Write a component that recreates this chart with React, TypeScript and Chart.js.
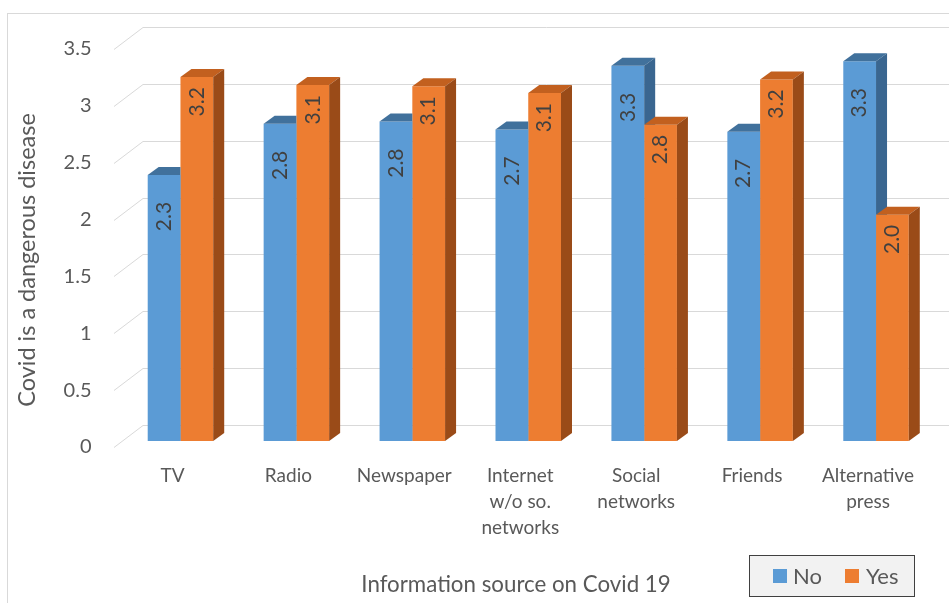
import React, { useEffect, useRef } from "react";
import { Chart, registerables } from "chart.js";

Chart.register(...registerables);

// ---- data ----
const CATEGORIES: (string | string[])[] = [
  "TV",
  "Radio",
  "Newspaper",
  ["Internet", "w/o so.", "networks"],
  ["Social", "networks"],
  "Friends",
  ["Alternative", "press"],
];
const NO_VALUES = [2.34, 2.79, 2.81, 2.74, 3.3, 2.72, 3.34];
const YES_VALUES = [3.2, 3.13, 3.12, 3.06, 2.78, 3.18, 1.99];
const SERIES_NAMES = ["No", "Yes"];
const Y_TITLE = "Covid is a dangerous disease";
const X_TITLE = "Information source on Covid 19";
const Y_MIN = 0;
const Y_MAX = 3.5;
const Y_STEP = 0.5;

// ---- style ----
const FONT = "Lato, 'Open Sans', sans-serif";
const FRONT = ["#5b9bd5", "#ed7d31"];
const TOP = ["#41719c", "#c2601f"];
const SIDE = ["#3a6690", "#9a4b18"];
const DX = 11;
const DY = -8;
const LABEL_GAP = [27, 10];

function faces(ctx: CanvasRenderingContext2D, p: any, idx: number) {
  const xl = p.x - p.width / 2;
  const xr = p.x + p.width / 2;
  const yt = Math.min(p.y, p.base);
  const yb = Math.max(p.y, p.base);
  ctx.fillStyle = TOP[idx];
  ctx.beginPath();
  ctx.moveTo(xl, yt);
  ctx.lineTo(xr, yt);
  ctx.lineTo(xr + DX, yt + DY);
  ctx.lineTo(xl + DX, yt + DY);
  ctx.closePath();
  ctx.fill();
  ctx.fillStyle = SIDE[idx];
  ctx.beginPath();
  ctx.moveTo(xr, yt);
  ctx.lineTo(xr + DX, yt + DY);
  ctx.lineTo(xr + DX, yb + DY);
  ctx.lineTo(xr, yb);
  ctx.closePath();
  ctx.fill();
}

const threeD = {
  id: "threeD",
  beforeDraw(chart: any) {
    const { ctx, width, height } = chart;
    ctx.save();
    ctx.fillStyle = "#ffffff";
    ctx.fillRect(0, 0, width, height);
    ctx.strokeStyle = "#d9d9d9";
    ctx.lineWidth = 1;
    ctx.strokeRect(7.5, 13.5, width + 20, height + 20);
    const ys = chart.scales.y;
    const area = chart.chartArea;
    const xf = area.left - 8.5;
    const xb = area.left + 20.5;
    ys.ticks.forEach((t: any) => {
      const py = Math.round(ys.getPixelForValue(t.value)) + 0.5;
      ctx.beginPath();
      ctx.moveTo(xf, py + 6);
      ctx.lineTo(xb, py - 16);
      ctx.lineTo(width + 5, py - 16);
      ctx.stroke();
    });
    ctx.restore();
  },
  afterDatasetsDraw(chart: any) {
    const ctx = chart.ctx as CanvasRenderingContext2D;
    const m0 = chart.getDatasetMeta(0);
    const m1 = chart.getDatasetMeta(1);
    const n = chart.data.labels.length;
    for (let i = 0; i < n; i++) {
      const bp = m0.data[i].getProps(["x", "y", "base", "width"], true);
      const op = m1.data[i].getProps(["x", "y", "base", "width"], true);
      ctx.save();
      ctx.beginPath();
      ctx.rect(0, 0, chart.width, chart.height);
      ctx.rect(op.x - op.width / 2, Math.min(op.y, op.base), op.width, Math.abs(op.base - op.y));
      ctx.clip("evenodd");
      faces(ctx, bp, 0);
      ctx.restore();
      ctx.save();
      faces(ctx, op, 1);
      ctx.restore();
    }
    // data labels
    ctx.save();
    ctx.fillStyle = "#404040";
    ctx.font = `21px ${FONT}`;
    ctx.textAlign = "right";
    ctx.textBaseline = "middle";
    [m0, m1].forEach((meta: any, d: number) => {
      meta.data.forEach((el: any, i: number) => {
        const v = chart.data.datasets[d].data[i] as number;
        ctx.save();
        ctx.translate(el.x, el.y + LABEL_GAP[d]);
        ctx.rotate(-Math.PI / 2);
        ctx.fillText(v.toFixed(1), 0, 0);
        ctx.restore();
      });
    });
    ctx.restore();
  },
  afterDraw(chart: any) {
    const ctx = chart.ctx as CanvasRenderingContext2D;
    ctx.save();
    ctx.fillStyle = "#595959";
    ctx.font = `22.3px ${FONT}`;
    ctx.textAlign = "center";
    ctx.textBaseline = "middle";
    ctx.fillText(X_TITLE, 516, 585);
    ctx.save();
    ctx.font = `23.5px ${FONT}`;
    ctx.translate(27, 260);
    ctx.rotate(-Math.PI / 2);
    ctx.fillText(Y_TITLE, 0, 0);
    ctx.restore();
    // legend
    ctx.fillStyle = "#f2f2f2";
    ctx.fillRect(749.5, 555.5, 165, 41);
    ctx.strokeStyle = "#404040";
    ctx.lineWidth = 1;
    ctx.strokeRect(749.5, 555.5, 165, 41);
    const sq = [773, 845];
    const tx = [793, 866];
    ctx.font = `22px ${FONT}`;
    ctx.textAlign = "left";
    chart.data.datasets.forEach((ds: any, d: number) => {
      ctx.fillStyle = ds.backgroundColor;
      ctx.fillRect(sq[d], 569, 14, 14);
      ctx.fillStyle = "#595959";
      ctx.fillText(ds.label, tx[d], 577);
    });
    ctx.restore();
  },
};

export default function App() {
  const ref = useRef<HTMLCanvasElement>(null);
  useEffect(() => {
    document.body.style.margin = "0";
    let chart: Chart | null = null;
    let cancelled = false;
    const make = () => {
      if (cancelled || !ref.current) return;
      chart = new Chart(ref.current, {
        type: "bar",
        data: {
          labels: CATEGORIES as any,
          datasets: [
            { label: SERIES_NAMES[0], data: NO_VALUES, backgroundColor: FRONT[0], borderWidth: 0 },
            { label: SERIES_NAMES[1], data: YES_VALUES, backgroundColor: FRONT[1], borderWidth: 0 },
          ],
        },
        options: {
          responsive: false,
          animation: false,
          devicePixelRatio: 1,
          layout: { padding: { left: 0, right: 15, top: 40.6, bottom: 0 } },
          plugins: { legend: { display: false }, tooltip: { enabled: false }, title: { display: false } },
          datasets: { bar: { categoryPercentage: 0.565, barPercentage: 1 } },
          scales: {
            x: {
              grid: { display: false, drawTicks: false },
              border: { display: false },
              ticks: {
                font: { family: FONT, size: 19, lineHeight: 26 / 19 },
                color: "#595959",
                padding: 22,
                labelOffset: -8,
                maxRotation: 0,
                autoSkip: false,
              },
              afterFit: (s: any) => {
                s.height = 162;
              },
            },
            y: {
              min: Y_MIN,
              max: Y_MAX,
              grid: { display: false, drawTicks: false },
              border: { display: false },
              ticks: {
                stepSize: Y_STEP,
                font: { family: FONT, size: 20 },
                color: "#595959",
                padding: 31,
                labelOffset: 6,
                callback: (v: any) => `${+v}`,
              },
              afterFit: (s: any) => {
                s.width = 122.5;
              },
            },
          },
        },
        plugins: [threeD],
      });
    };
    const f = (document as any).fonts;
    if (f && f.load) {
      Promise.all([f.load(`20px Lato`), f.load(`22px Lato`)]).then(make, make);
    } else make();
    return () => {
      cancelled = true;
      if (chart) chart.destroy();
    };
  }, []);
  return (
    <div style={{ width: 949, height: 603 }}>
      <canvas ref={ref} width={949} height={603} style={{ display: "block" }} />
    </div>
  );
}
